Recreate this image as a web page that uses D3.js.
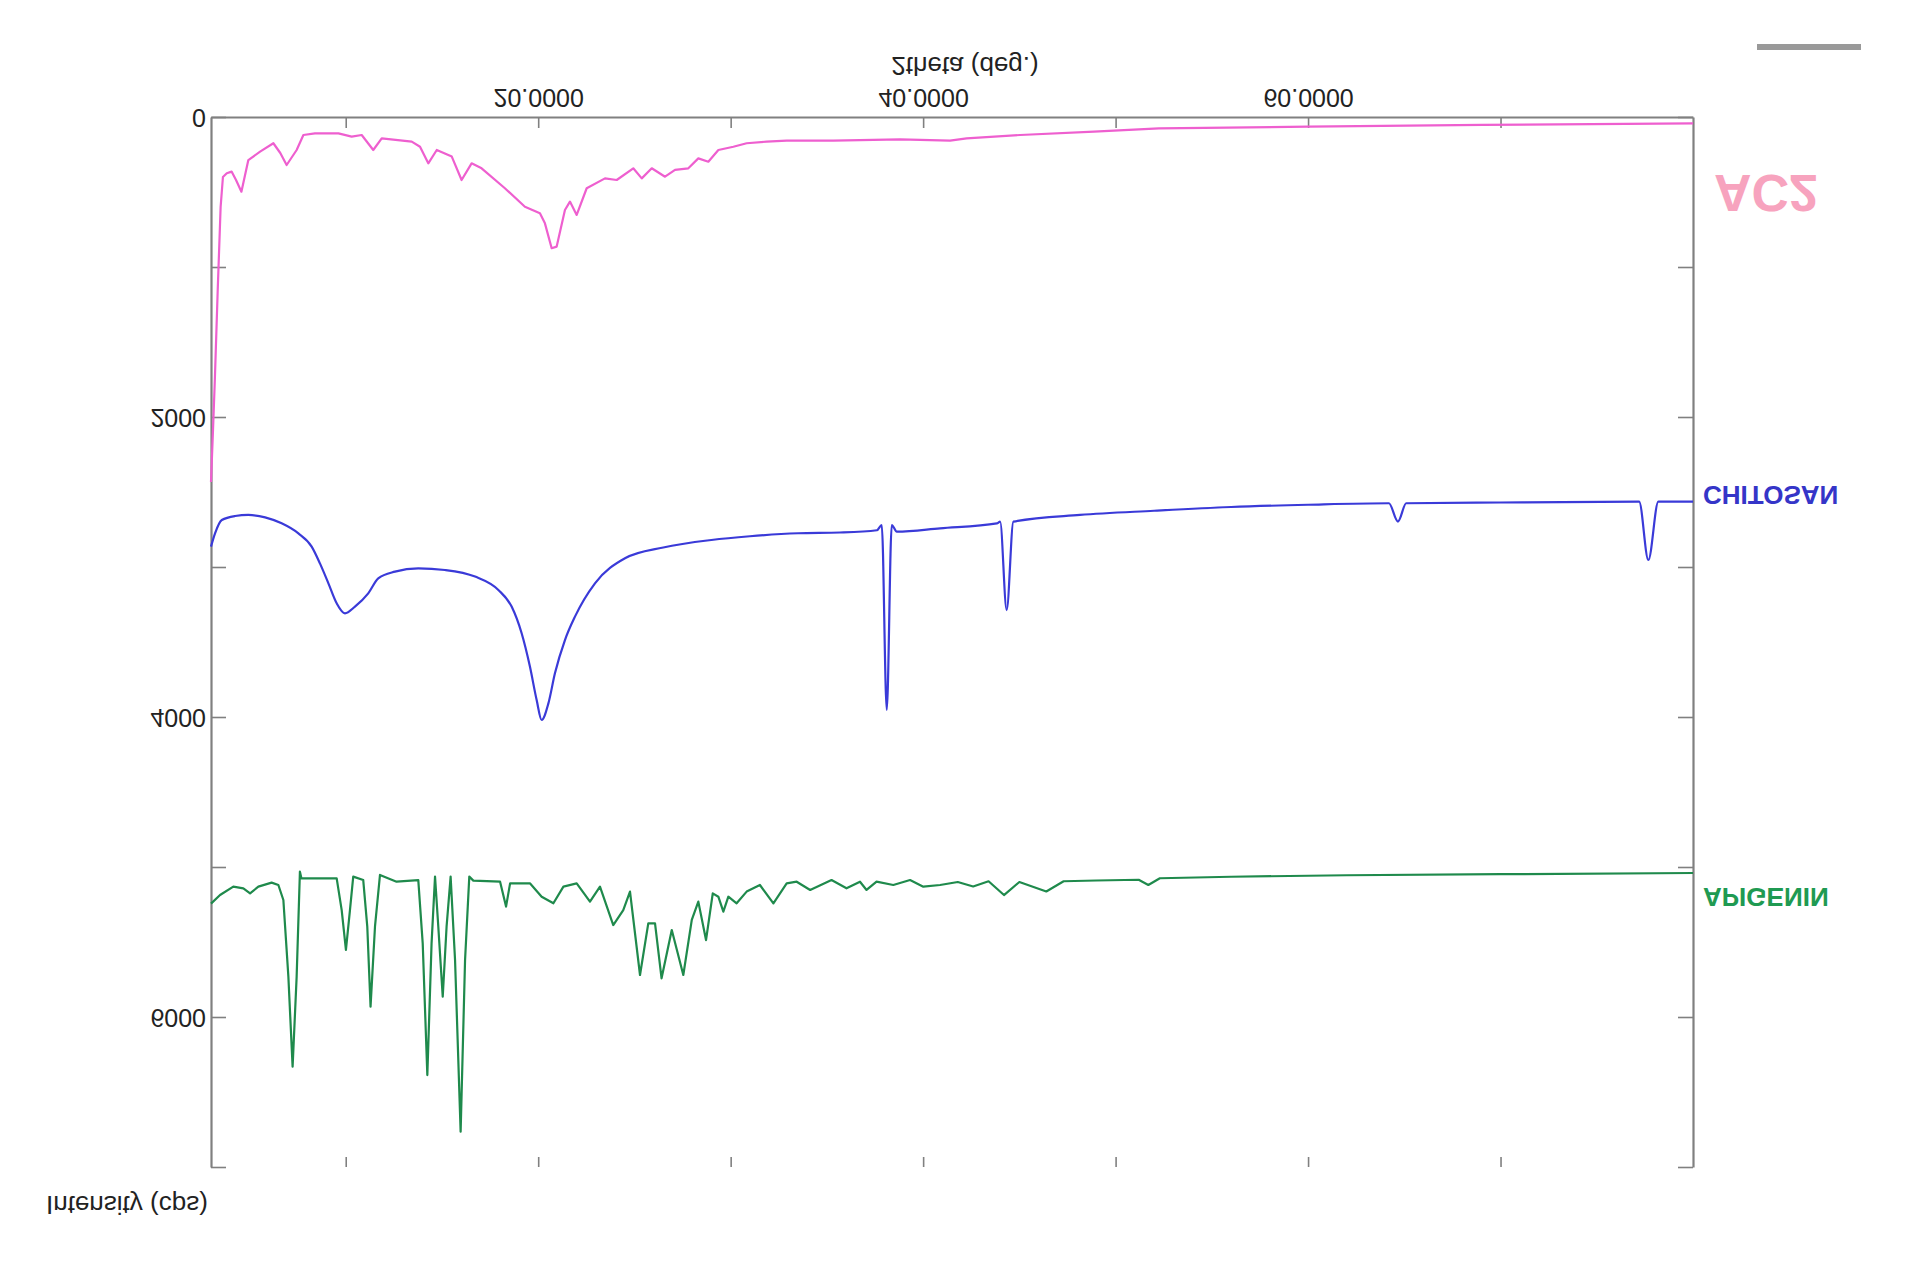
<!DOCTYPE html>
<html>
<head>
<meta charset="utf-8">
<script src="https://cdn.jsdelivr.net/npm/d3@7"></script>
<style>
  html, body { margin: 0; padding: 0; background: #ffffff; }
  svg { display: block; font-family: "Liberation Sans", Arial, sans-serif; }
</style>
</head>
<body>
<svg id="chart" width="1915" height="1266"></svg>
<script>
// ---- data (2theta in degrees, intensity in cps) ----
const ac2Theta = [3.0,3.1,3.2,3.35,3.5,3.62,3.82,4.07,4.3,4.58,4.94,5.55,6.24,6.6,6.93,7.45,7.8,8.4,9.62,10.31,10.83,11.43,11.87,13.43,13.86,14.29,14.73,15.51,16.02,16.54,17.06,18.27,19.31,20.09,20.35,20.7,20.96,21.39,21.65,22.0,22.52,23.47,24.08,24.94,25.38,25.9,26.59,27.11,27.8,28.32,28.84,29.36,30.14,30.83,31.87,32.91,35.33,38.8,41.4,42.26,45.04,48.88,52.25,60.0,69.06,80.0];
const ac2Counts = [2433,2100,1750,1150,600,400,375,364,420,498,287,231,175,240,320,220,120,109,109,131,120,220,142,164,198,309,220,264,420,309,342,475,598,642,709,875,864,620,564,653,475,409,420,342,409,342,398,353,342,276,298,220,198,175,164,158,158,149,158,142,120,98,76,64,53,42];

const chitosanTheta = [3.0,3.21,3.56,4.25,4.94,5.81,6.67,7.54,8.23,8.66,9.10,9.53,9.96,10.48,11.17,11.69,12.56,13.77,15.16,16.72,17.93,18.62,19.14,19.57,19.92,20.18,20.53,20.87,21.39,21.91,22.95,24.51,26.5,29.0,31.0,33.5,35.68,37.6,37.85,38.11,38.37,38.63,40.88,43.83,44.0,44.34,44.69,48.15,52.0,56.0,60.0,64.2,64.67,65.1,70.0,77.2,77.68,78.2,80.0];
const chitosanCounts = [2864,2776,2687,2660,2653,2669,2709,2776,2864,2976,3109,3242,3309,3264,3176,3076,3031,3009,3020,3064,3153,3264,3442,3664,3887,4020,3909,3709,3487,3331,3109,2942,2870,2820,2795,2775,2770,2755,2720,3953,2720,2764,2742,2709,2698,3287,2698,2653,2625,2600,2585,2575,2697,2575,2570,2564,2953,2564,2564];

const apigeninTheta = [3.0,3.47,4.16,4.68,5.03,5.46,6.15,6.5,6.76,7.02,7.24,7.45,7.62,7.7,9.53,9.79,10.01,10.22,10.39,10.91,11.12,11.29,11.52,11.78,12.64,13.77,14.0,14.24,14.46,14.64,14.81,15.04,15.24,15.45,15.68,15.97,16.2,16.42,16.63,18.02,18.33,18.54,19.57,20.18,20.79,21.31,22.0,22.69,23.21,23.9,24.42,24.77,25.29,25.72,26.07,26.41,26.94,27.54,27.98,28.32,28.72,29.07,29.36,29.62,29.88,30.31,30.83,31.52,32.22,32.91,33.43,34.13,35.24,36.02,36.72,37.06,37.58,38.45,39.32,40.01,40.88,41.8,42.6,43.4,44.2,45.0,46.4,47.3,49.0,51.2,51.7,52.3,56.0,62.0,70.0,80.0];
const apigeninCounts = [5244,5187,5131,5142,5176,5131,5104,5120,5220,5731,6331,5731,5031,5076,5076,5287,5553,5287,5064,5087,5398,5931,5398,5053,5098,5087,5509,6387,5509,5064,5398,5864,5398,5064,5620,6764,5620,5064,5091,5098,5264,5109,5109,5198,5242,5131,5109,5231,5131,5387,5287,5164,5720,5376,5376,5742,5420,5720,5353,5231,5487,5176,5198,5298,5198,5242,5164,5120,5242,5109,5098,5153,5087,5142,5098,5153,5098,5120,5087,5131,5120,5100,5130,5095,5187,5100,5163,5095,5090,5085,5120,5075,5065,5055,5048,5040];

const seriesNames = ["AC2", "CHITOSAN", "APIGENIN"];
const xTickValues = [10, 20, 30, 40, 50, 60, 70];
const xTickLabels = ["", "20.0000", "", "40.0000", "", "60.0000", ""];
const yTickValues = [0, 1000, 2000, 3000, 4000, 5000, 6000, 7000];
const yTickLabels = ["0", "", "2000", "", "4000", "", "6000", ""];
const xTitle = "2theta (deg.)";
const yTitle = "Intensity (cps)";

// ---- drawing ----
const svg = d3.select("#chart");
const axisColor = "#808080";
const x = d3.scaleLinear().domain([3, 80]).range([211, 1693]);
const y = d3.scaleLinear().domain([0, 7000]).range([117, 1167]);

// vertically mirrored text helper
function flipText(sel, dx, dy, anchor) {
  sel.attr("x", 0).attr("y", 0).attr("dy", null)
     .attr("text-anchor", anchor)
     .attr("dominant-baseline", "central")
     .attr("transform", `translate(${dx},${dy}) scale(1,-1)`);
}

// left axis (labels)
const gLeft = svg.append("g").attr("transform", `translate(${x.range()[0]},0)`)
  .call(d3.axisLeft(y).tickValues(yTickValues).tickSize(-15).tickSizeOuter(0)
    .tickFormat((d, i) => yTickLabels[i]));
gLeft.selectAll("text").call(flipText, -5, 0, "end")
  .attr("font-size", 25).attr("fill", "#222");

// right axis
svg.append("g").attr("transform", `translate(${x.range()[1]},0)`)
  .call(d3.axisRight(y).tickValues(yTickValues).tickSize(-15).tickSizeOuter(0).tickFormat(""));

// top axis (value 0 line) with labels
const gTop = svg.append("g").attr("transform", `translate(0,${y(0)})`)
  .call(d3.axisTop(x).tickValues(xTickValues).tickSize(-11).tickSizeOuter(0)
    .tickFormat((d, i) => xTickLabels[i]));
gTop.selectAll("text").call(flipText, 0, -19, "middle")
  .attr("font-size", 25).attr("fill", "#222");

// bottom ticks only
const gBot = svg.append("g").attr("transform", `translate(0,${y(7000)})`)
  .call(d3.axisBottom(x).tickValues(xTickValues).tickSize(-10).tickSizeOuter(0).tickFormat(""));
gBot.select(".domain").remove();

svg.selectAll(".domain").attr("stroke", axisColor).attr("stroke-width", 2.2);
svg.selectAll(".tick line").attr("stroke", axisColor).attr("stroke-width", 1.6);

// series
const lineLinear = d3.line().x(d => x(d[0])).y(d => y(d[1])).curve(d3.curveLinear);
const lineSmooth = d3.line().x(d => x(d[0])).y(d => y(d[1])).curve(d3.curveMonotoneX);

const series = [
  { name: seriesNames[0], theta: ac2Theta, counts: ac2Counts, color: "#ee5fcf", gen: lineLinear },
  { name: seriesNames[1], theta: chitosanTheta, counts: chitosanCounts, color: "#3a3ad8", gen: lineSmooth },
  { name: seriesNames[2], theta: apigeninTheta, counts: apigeninCounts, color: "#1f8a4c", gen: lineLinear }
];
series.forEach(s => {
  const pts = s.theta.map((t, i) => [t, s.counts[i]]);
  svg.append("path").datum(pts)
    .attr("fill", "none").attr("stroke", s.color).attr("stroke-width", 2.2)
    .attr("stroke-linejoin", "round").attr("d", s.gen);
});

// series labels (mirrored)
svg.append("text").text(seriesNames[0]).call(flipText, 1714, 193, "start")
  .attr("font-size", 52).attr("font-weight", "bold").attr("fill", "#f7a3be");
svg.append("text").text(seriesNames[1]).call(flipText, 1703, 495, "start")
  .attr("font-size", 26).attr("font-weight", "bold").attr("fill", "#3535c8");
svg.append("text").text(seriesNames[2]).call(flipText, 1703, 897, "start")
  .attr("font-size", 26).attr("font-weight", "bold").attr("fill", "#1f9a52");

// axis titles (mirrored)
svg.append("text").text(xTitle).call(flipText, 965, 66, "middle")
  .attr("font-size", 26).attr("fill", "#222");
svg.append("text").text(yTitle).call(flipText, 46, 1205, "start")
  .attr("font-size", 26).attr("fill", "#222");

// grey bar at top right
svg.append("line").attr("x1", 1757).attr("x2", 1861).attr("y1", 47).attr("y2", 47)
  .attr("stroke", "#999999").attr("stroke-width", 6);
</script>
</body>
</html>
